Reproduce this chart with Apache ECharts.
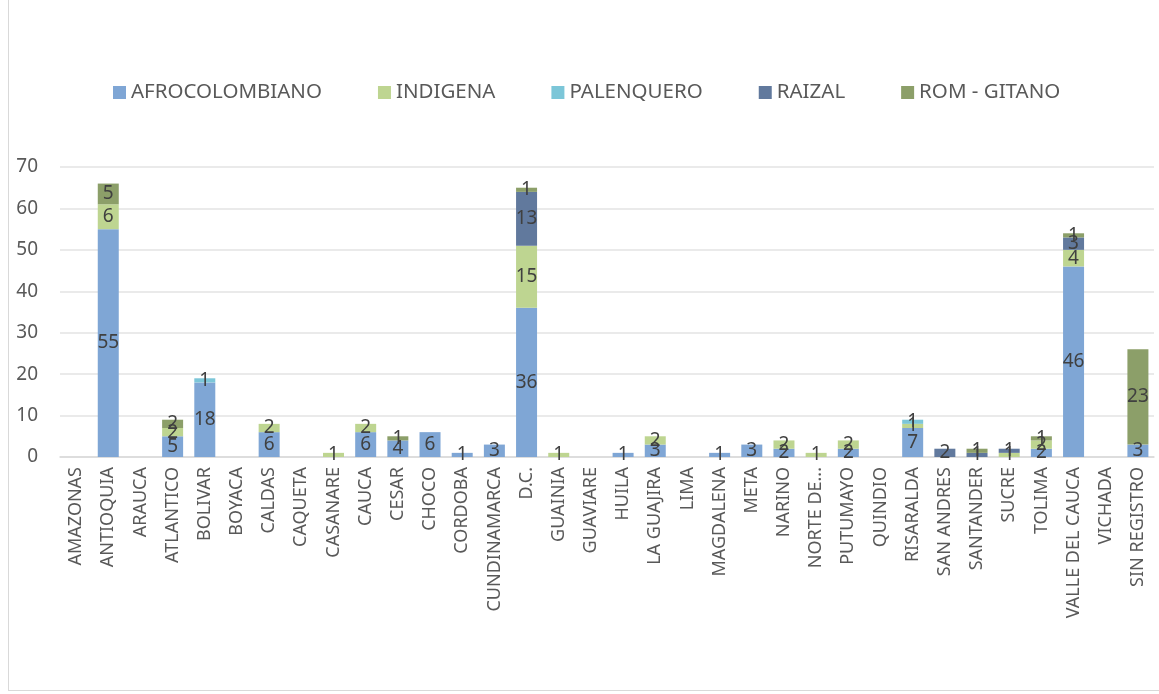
<!DOCTYPE html>
<html>
<head>
    <meta charset="utf-8">
    <title>Departamentos</title>
    <script src="https://cdn.jsdelivr.net/npm/echarts@6/dist/echarts.min.js"></script>
    <style>
        html, body { margin: 0; padding: 0; background: #fff; }
        #frame { position: absolute; left: 8px; top: 0; width: 1150px; height: 690px; border-left: 1px solid #d9d9d9; border-bottom: 1px solid #d9d9d9; }
        #chart1 { width: 1159px; height: 694px; }
    </style>
</head>
<body>
<div id="frame"></div>
<div id="chart1"></div>
<script type="text/javascript">
    // categorias (departamentos)
    var departamentos = ['AMAZONAS', 'ANTIOQUIA', 'ARAUCA', 'ATLANTICO', 'BOLIVAR', 'BOYACA', 'CALDAS', 'CAQUETA',
        'CASANARE', 'CAUCA', 'CESAR', 'CHOCO', 'CORDOBA', 'CUNDINAMARCA', 'D.C.', 'GUAINIA', 'GUAVIARE', 'HUILA',
        'LA GUAJIRA', 'LIMA', 'MAGDALENA', 'META', 'NARINO', 'NORTE DE...', 'PUTUMAYO', 'QUINDIO', 'RISARALDA',
        'SAN ANDRES', 'SANTANDER', 'SUCRE', 'TOLIMA', 'VALLE DEL CAUCA', 'VICHADA', 'SIN REGISTRO'];

    var afrocolombiano = [0, 55, 0, 5, 18, 0, 6, 0, 0, 6, 4, 6, 1, 3, 36, 0, 0, 1, 3, 0, 1, 3, 2, 0, 2, 0, 7, 0, 0, 0, 2, 46, 0, 3];
    var indigena       = [0, 6, 0, 2, 0, 0, 2, 0, 1, 2, 0, 0, 0, 0, 15, 1, 0, 0, 2, 0, 0, 0, 2, 1, 2, 0, 1, 0, 0, 1, 2, 4, 0, 0];
    var palenquero     = [0, 0, 0, 0, 1, 0, 0, 0, 0, 0, 0, 0, 0, 0, 0, 0, 0, 0, 0, 0, 0, 0, 0, 0, 0, 0, 1, 0, 0, 0, 0, 0, 0, 0];
    var raizal         = [0, 0, 0, 0, 0, 0, 0, 0, 0, 0, 0, 0, 0, 0, 13, 0, 0, 0, 0, 0, 0, 0, 0, 0, 0, 0, 0, 2, 1, 1, 0, 3, 0, 0];
    var romGitano      = [0, 5, 0, 2, 0, 0, 0, 0, 0, 0, 1, 0, 0, 0, 1, 0, 0, 0, 0, 0, 0, 0, 0, 0, 0, 0, 0, 0, 1, 0, 1, 1, 0, 23];

    var yTicks = [0, 10, 20, 30, 40, 50, 60, 70];

    var nombres = ['AFROCOLOMBIANO', 'INDIGENA', 'PALENQUERO', 'RAIZAL', 'ROM - GITANO'];
    var datos = [afrocolombiano, indigena, palenquero, raizal, romGitano];
    var colores = ['#7fa6d5', '#bed591', '#7cc6d8', '#61799d', '#8c9f69'];

    var myChart1 = echarts.init(document.getElementById('chart1'));

    var series = [];
    for (var i = 0; i < nombres.length; i++) {
        series.push({
            name: nombres[i],
            type: 'bar',
            stack: 'total',
            barWidth: 21,
            data: datos[i],
            itemStyle: { color: colores[i] },
            label: {
                show: true,
                position: 'inside',
                color: '#404040',
                fontSize: 19,
                fontFamily: 'Noto Sans',
                formatter: function (p) { return p.value ? p.value : ''; }
            }
        });
    }

    myChart1.setOption({
        animation: false,
        textStyle: { fontFamily: 'Noto Sans' },
        legend: {
            data: nombres,
            top: 77,
            left: 108,
            itemWidth: 13,
            itemHeight: 13,
            itemGap: 56,
            icon: 'rect',
            textStyle: { fontSize: 20.5, color: '#595959', fontFamily: 'Noto Sans' }
        },
        grid: { left: 60, right: 5, top: 167, bottom: 237 },
        xAxis: {
            type: 'category',
            data: departamentos,
            axisTick: { show: false },
            axisLine: { lineStyle: { color: '#d9d9d9', width: 1.5 } },
            axisLabel: {
                rotate: 90,
                interval: 0,
                fontSize: 18,
                color: '#595959',
                margin: 10
            }
        },
        yAxis: {
            type: 'value',
            min: yTicks[0],
            max: yTicks[yTicks.length - 1],
            interval: 10,
            axisLine: { show: false },
            axisTick: { show: false },
            axisLabel: { fontSize: 19, color: '#595959', margin: 22 },
            splitLine: { lineStyle: { color: '#e3e3e3', width: 1.5 } }
        },
        series: series
    });
</script>
</body>
</html>
